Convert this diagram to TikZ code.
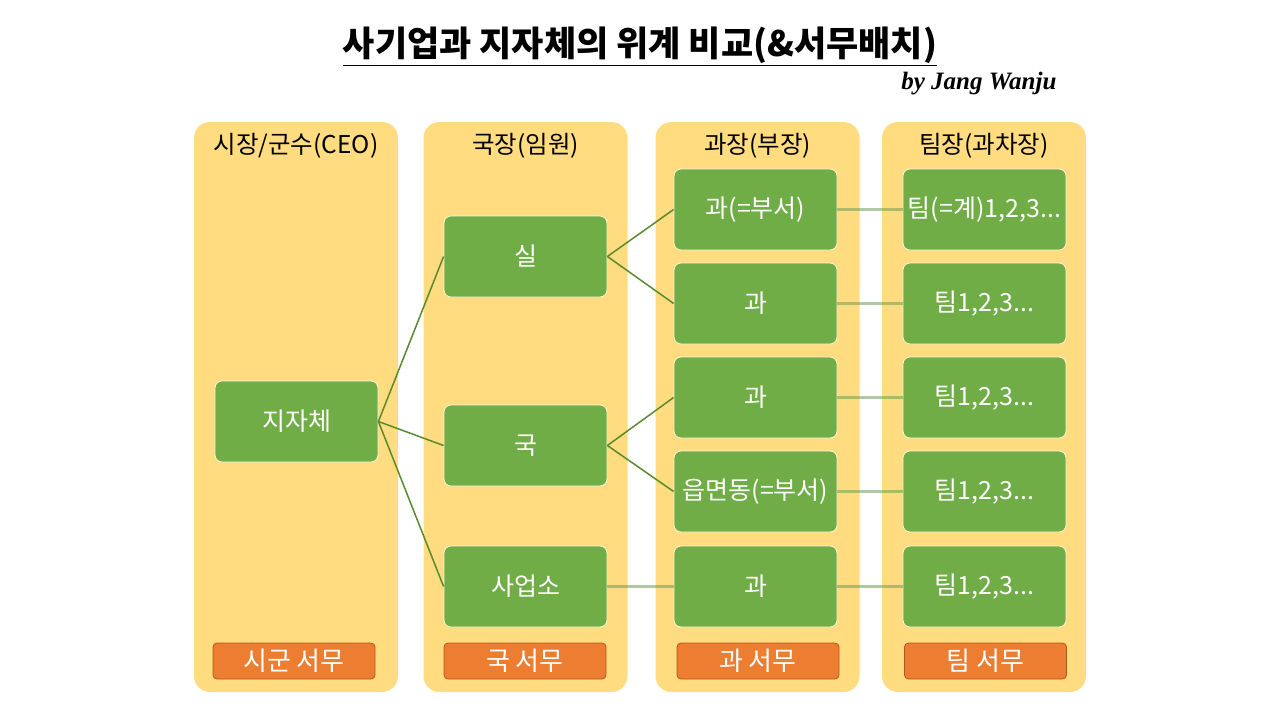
\documentclass[tikz,border=0pt]{standalone}
\usepackage{fontspec}
\setmainfont{Noto Sans CJK KR}
\newfontfamily\sigfont{Liberation Serif}
\usepackage{tikz}
\usetikzlibrary{positioning}
\usepackage{xcolor}
\definecolor{lane}{HTML}{FFDC80}
\definecolor{unit}{HTML}{70AD47}
\definecolor{clerk}{HTML}{ED7D31}
\definecolor{clerkline}{HTML}{B0571C}
\definecolor{ink}{HTML}{000000}
\definecolor{tree}{HTML}{5A8A30}
\definecolor{soft}{HTML}{6E9E58}
\tikzset{
  every node/.style={text=ink},
  lanebox/.style={fill=lane,rounded corners=16pt,minimum width=204pt,minimum height=570pt,inner sep=0pt},
  head/.style={font=\fontsize{24.5}{28}\selectfont},
  box/.style={draw=white!70!lane,line width=0.8pt,fill=unit,rounded corners=7pt,minimum width=163pt,minimum height=81pt,inner sep=2pt,align=center,text=white,font=\fontsize{25}{29}\selectfont},
  clerkbox/.style={draw=clerkline,line width=0.8pt,fill=clerk,rounded corners=4pt,minimum width=162pt,minimum height=36pt,inner sep=0pt,text=white,font=\fontsize{26}{29}\selectfont},
  tie/.style={draw=tree,line width=1.5pt},
  softtie/.style={draw=soft,draw opacity=0.55,line width=2.2pt},
}

\begin{document}
\begin{tikzpicture}[x=1pt,y=-1pt]
\useasboundingbox[fill=white] (0,0) rectangle (1280,720);

% title
\node[font=\fontsize{35}{40}\selectfont\bfseries] (title) at (640,46) {\underline{사기업과 지자체의 위계 비교(\&서무배치)}};
\node[font=\sigfont\fontsize{25}{28}\selectfont\bfseries\itshape,anchor=east] (sign) at (1060,84) {by Jang Wanju};

% lanes
\node[lanebox] (lane1) at (296,407) {};
\node[lanebox] (lane2) at (525.5,407) {};
\node[lanebox] (lane3) at (757.5,407) {};
\node[lanebox] (lane4) at (984,407) {};

\node[head] (h1) at (296,146) {시장/군수(CEO)};
\node[head] (h2) at (525.5,146) {국장(임원)};
\node[head] (h3) at (757.5,146) {과장(부장)};
\node[head] (h4) at (984,146) {팀장(과차장)};

% city
\node[box] (jiji) at (296.5,421.5) {지자체};

% bureau level
\node[box] (sil) at (525.5,256.5) {실};
\node[box] (guk) at (525.5,445.5) {국};
\node[box] (office) at (525.5,586.5) {사업소};

% section level
\node[box] (gwa1) at (755.5,209.5) {과(=부서)};
\node[box] (gwa2) at (755.5,303.5) {과};
\node[box] (gwa3) at (755.5,397.5) {과};
\node[box] (town) at (755.5,491.5) {읍면동(=부서)};
\node[box] (gwa5) at (755.5,586.5) {과};

% team level
\node[box] (team1) at (984.5,209.5) {팀(=계)1,2,3...};
\node[box] (team2) at (984.5,303.5) {팀1,2,3...};
\node[box] (team3) at (984.5,397.5) {팀1,2,3...};
\node[box] (team4) at (984.5,491.5) {팀1,2,3...};
\node[box] (team5) at (984.5,586.5) {팀1,2,3...};

% clerks
\node[clerkbox] (c1) at (294,661) {시군 서무};
\node[clerkbox] (c2) at (525,661) {국 서무};
\node[clerkbox] (c3) at (758,661) {과 서무};
\node[clerkbox] (c4) at (985.5,661) {팀 서무};

\draw[tie] (jiji.east) -- (sil.west);
\draw[tie] (jiji.east) -- (guk.west);
\draw[tie] (jiji.east) -- (office.west);
\draw[tie] (sil.east) -- (gwa1.west);
\draw[tie] (sil.east) -- (gwa2.west);
\draw[tie] (guk.east) -- (gwa3.west);
\draw[tie] (guk.east) -- (town.west);
\draw[softtie] (office.east) -- (gwa5.west);

\draw[softtie] (gwa1.east) -- (team1.west);
\draw[softtie] (gwa2.east) -- (team2.west);
\draw[softtie] (gwa3.east) -- (team3.west);
\draw[softtie] (town.east) -- (team4.west);
\draw[softtie] (gwa5.east) -- (team5.west);

\end{tikzpicture}
\end{document}
